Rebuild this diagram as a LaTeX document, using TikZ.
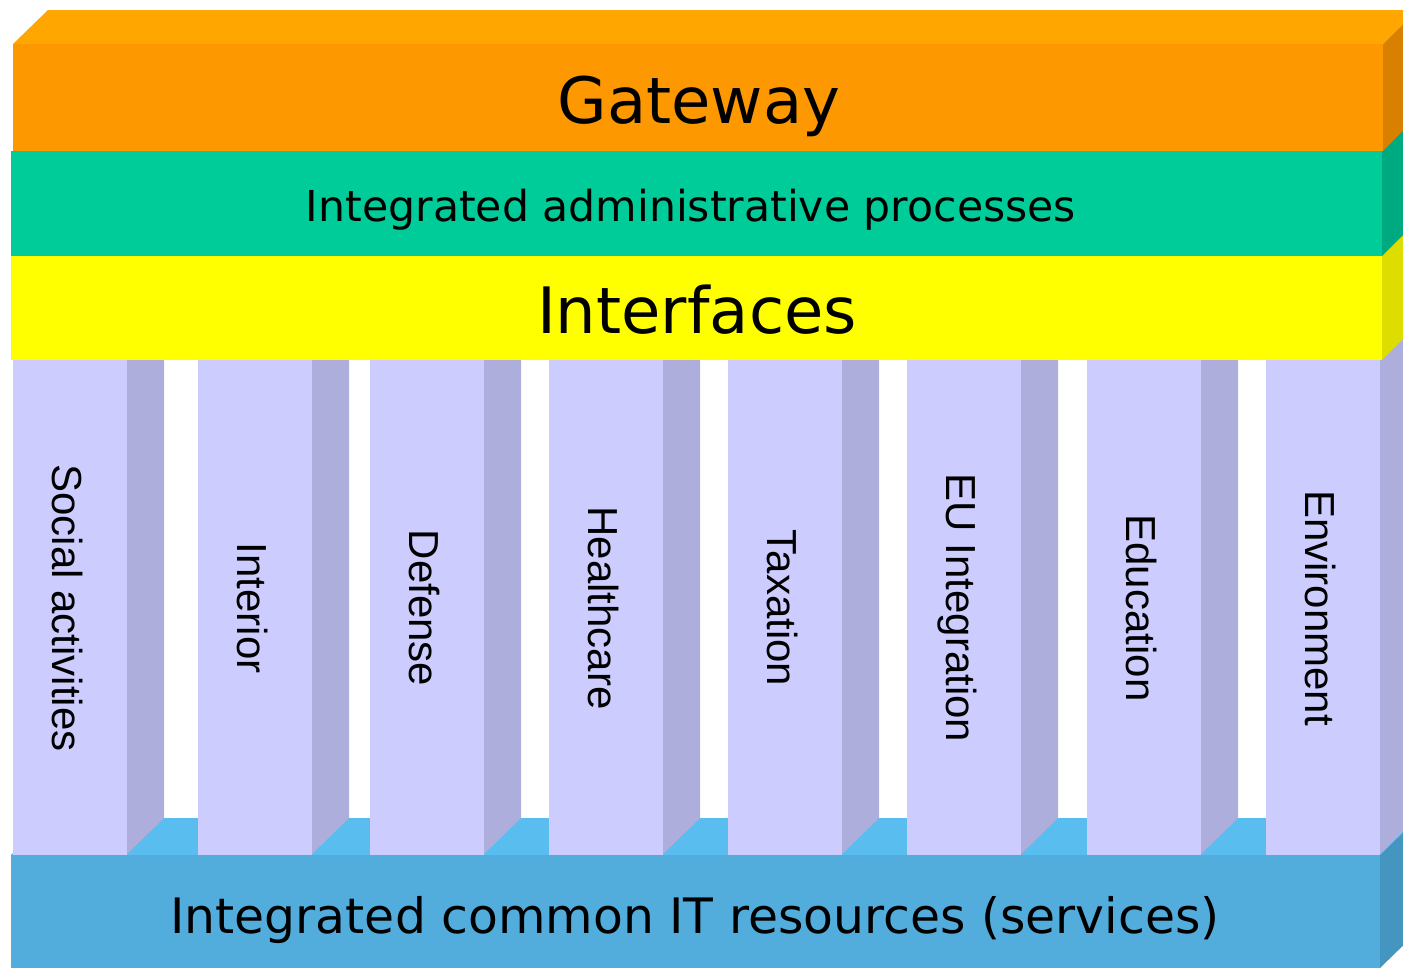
\documentclass[tikz,border=0pt]{standalone}
\usepackage{fontspec}
\setmainfont{DejaVu Sans}
\newfontfamily\pillarfont{Liberation Sans}
\definecolor{gatefront}{HTML}{FD9800}
\definecolor{gatetop}{HTML}{FFA600}
\definecolor{gateside}{HTML}{D98000}
\definecolor{procfront}{HTML}{00CC99}
\definecolor{procside}{HTML}{00AA80}
\definecolor{intfront}{HTML}{FFFF00}
\definecolor{intside}{HTML}{DDDD00}
\definecolor{colfront}{HTML}{CCCCFF}
\definecolor{colside}{HTML}{AEAEDD}
\definecolor{basefront}{HTML}{52ADDC}
\definecolor{basetop}{HTML}{5ABDF0}
\definecolor{baseside}{HTML}{4495C0}
\begin{document}
\begin{tikzpicture}[x=0.5pt,y=-0.5pt,
  blocklabel/.style={anchor=base,inner sep=0pt},
  collabel/.style={anchor=base,inner sep=0pt,rotate=-90,font=\pillarfont\fontsize{21}{25}\selectfont}]
\useasboundingbox (0,0) rectangle (1403,969);
\clip (0,0) rectangle (1403,969);
% base block: top and side
\fill[basetop] (11,855) -- (46,818) -- (1418,818) -- (1380,855) -- cycle;
\fill[baseside] (1380,855) -- (1418,818) -- (1418,931) -- (1380,968) -- cycle;
% columns
\foreach \x/\name/\txt in {13/social/Social activities,198/interior/Interior,370/defense/Defense,
  549/health/Healthcare,728/tax/Taxation,907/eu/EU Integration,1087/edu/Education,1266/env/Environment}{
  \fill[colside] (\x+113,360) -- (\x+151,322) -- (\x+151,818) -- (\x+113,855) -- cycle;
  \fill[colfront] (\x,360) rectangle (\x+114,855);
  \node[collabel] (\name) at (\x+39,608) {\txt};
}
% base block: front
\fill[basefront] (11,855) rectangle (1380,968);
\node[blocklabel,font=\fontsize{24.4}{28}\selectfont] (itres) at (695,933) {Integrated common IT resources (services)};
% interfaces
\fill[intside] (1382,256) -- (1418,220) -- (1418,324) -- (1382,360) -- cycle;
\fill[intfront] (11,256) rectangle (1382,360);
\node[blocklabel,font=\fontsize{32}{36}\selectfont] (interfaces) at (697,333) {Interfaces};
% processes
\fill[procside] (1382,151) -- (1418,115) -- (1418,220) -- (1382,256) -- cycle;
\fill[procfront] (11,151) rectangle (1382,256);
\node[blocklabel,font=\fontsize{21.3}{25}\selectfont] (processes) at (691,221) {Integrated administrative processes};
% gateway
\fill[gatetop] (13,44) -- (48,10) -- (1418,10) -- (1383,44) -- cycle;
\fill[gateside] (1383,44) -- (1418,10) -- (1418,115) -- (1383,151) -- cycle;
\fill[gatefront] (13,44) rectangle (1383,151);
\node[blocklabel,font=\fontsize{32}{36}\selectfont] (gateway) at (699,123) {Gateway};
\end{tikzpicture}
\end{document}
